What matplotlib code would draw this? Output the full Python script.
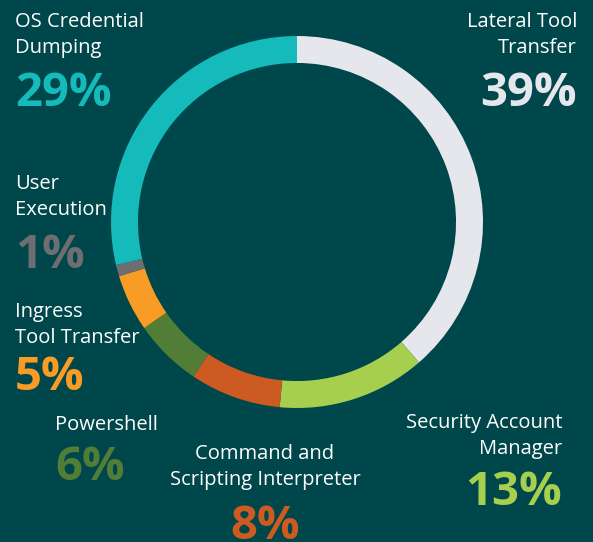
import matplotlib.pyplot as plt

# data
labels = ['Lateral Tool\nTransfer', 'Security Account\nManager', 'Command and\nScripting Interpreter',
          'Powershell', 'Ingress\nTool Transfer', 'User\nExecution', 'OS Credential\nDumping']
values = [39, 13, 8, 6, 5, 1, 29]
colors = ['#e6e7ec', '#a6cf4f', '#cc5a21', '#517d36', '#f89c26', '#6d6e71', '#14bbba']

bg = '#00474b'
W, H = 593, 542

fig = plt.figure(figsize=(W / 100, H / 100), dpi=100, facecolor=bg)

# ring: center (297, 222) px, radius 186 px
cx, cy, r = 297, 222, 186
ax = fig.add_axes([(cx - r) / W, (H - cy - r) / H, 2 * r / W, 2 * r / H])
ax.set_facecolor(bg)
ax.pie(values, colors=colors, startangle=90, counterclock=False, radius=1,
       wedgeprops=dict(width=0.145, linewidth=0))
ax.set_xlim(-1, 1)
ax.set_ylim(-1, 1)
ax.set_aspect('equal')
ax.axis('off')

# text layout: (x px, last label baseline px, pct baseline px, align)
layout = [
    (577, 53, 106, 'right'),
    (562, 454, 505, 'right'),
    (265, 485, 539, 'center'),
    (55, 430, 480, 'left'),
    (15, 343, 390, 'left'),
    (15, 215, 268, 'left'),
    (15, 53, 106, 'left'),
]

font = 'Open Sans'
for lab, v, c, (x, ty, py, ha) in zip(labels, values, colors, layout):
    fig.text(x / W, 1 - ty / H, lab, ha=ha, va='baseline', color='white',
             fontsize=14.5, family=font, linespacing=1.37, multialignment=ha)
    fig.text(x / W, 1 - py / H, f'{v}%', ha=ha, va='baseline', color=c,
             fontsize=34, family=font, fontweight='bold')

fig.savefig('out.png', dpi=100, facecolor=bg)
